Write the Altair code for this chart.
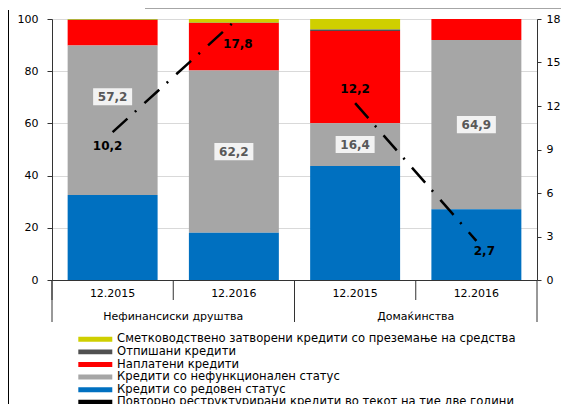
import altair as alt
import pandas as pd

# ---------------- data ----------------
categories = ["Нефинансиски друштва|12.2015", "Нефинансиски друштва|12.2016",
              "Домаќинства|12.2015", "Домаќинства|12.2016"]
groups = ["Нефинансиски друштва", "Домаќинства"]
series = ["Сметководствено затворени кредити со преземање на средства",
          "Отпишани кредити",
          "Наплатени кредити",
          "Кредити со нефункционален статус",
          "Кредити со редовен статус"]
line_name = "Повторно реструктурирани кредити во текот на тие две години"

yellow = [0.3, 1.4, 4.0, 0.0]
darkgrey = [0.1, 0.1, 0.6, 0.0]
red = [9.8, 18.2, 35.3, 8.0]
grey = [57.2, 62.2, 16.4, 64.9]
blue = [32.6, 18.1, 43.7, 27.1]
restructured = [10.2, 17.8, 12.2, 2.7]

colors = ["#CFCF00", "#505050", "#FF0000", "#A6A6A6", "#0070C0", "#000000"]

# ---------------- tables ----------------
series_values = [yellow, darkgrey, red, grey, blue]
rows = []
for si, (name, vals) in enumerate(zip(series, series_values)):
    for ci, cat in enumerate(categories):
        rows.append({"cat": cat, "series": name, "value": vals[ci], "rank": 4 - si})
bars_df = pd.DataFrame(rows)

fmt = lambda v: f"{v:.1f}".replace(".", ",")
grey_pos = [b + g / 2 for b, g in zip(blue, grey)]
grey_pos[0] += 9  # first label nudged up, clear of the line
grey_df = pd.DataFrame({"cat": categories, "pos": grey_pos, "label": [fmt(v) for v in grey]})
line_df = pd.DataFrame({"cat": categories, "grp": [c.split("|")[0] for c in categories],
                        "v": restructured, "label": [fmt(v) for v in restructured]})
cat_df = pd.DataFrame({"cat": categories})
grp_df = pd.DataFrame({"cat": [categories[1], categories[3]], "label": groups})

W, H = 485, 261
FONT = "DejaVu Sans"
AX = "#333333"


def xenc(band=0.5):
    return alt.X("cat:N", sort=categories, bandPosition=band,
                 scale=alt.Scale(domain=categories, paddingInner=0, paddingOuter=0),
                 axis=alt.Axis(title=None, labelExpr="split(datum.value,'|')[1]",
                               ticks=False, domain=True, domainColor=AX, labelPadding=7,
                               labelAngle=0, grid=False, labelFont=FONT, labelFontSize=11,
                               labelColor="#000"))


left_axis = alt.Axis(title=None, values=[0, 20, 40, 60, 80, 100], tickSize=5, tickColor=AX,
                     domainColor=AX, labelPadding=9, grid=True, gridColor="#D9D9D9",
                     labelFont=FONT, labelFontSize=11, labelColor="#000")
right_axis = alt.Axis(title=None, orient="right", values=[0, 3, 6, 9, 12, 15, 18], tickSize=4,
                      tickColor=AX, domainColor=AX, labelPadding=5, grid=False,
                      labelFont=FONT, labelFontSize=11, labelColor="#000")
yl_scale = alt.Scale(domain=[0, 100], nice=False, zero=True)
yr_scale = alt.Scale(domain=[0, 18], nice=False, zero=True)

bars = alt.Chart(bars_df).mark_bar(width={"band": 0.742}).encode(
    x=xenc(),
    y=alt.Y("value:Q", stack="zero", scale=yl_scale, axis=left_axis),
    color=alt.Color("series:N", scale=alt.Scale(domain=series + [line_name], range=colors),
                    legend=alt.Legend(title=None, orient="none", legendX=37.5, legendY=314.5,
                                      symbolType="M-3.09,-0.45H3.09V0.45H-3.09Z", symbolSize=121,
                                      symbolStrokeWidth=0, labelFont=FONT, labelFontSize=11.6,
                                      labelColor="#000", labelLimit=600, rowPadding=-0.4,
                                      labelOffset=16, padding=0, direction="vertical")),
    order=alt.Order("rank:Q", sort="ascending"),
)

boxes = alt.Chart(grey_df).mark_point(shape="M-1,-0.44H1V0.44H-1Z", size=1521, filled=True,
                                      color="#F2F2F2", opacity=1).encode(
    x=xenc(), y=alt.Y("pos:Q", scale=yl_scale, axis=left_axis))
grey_text = alt.Chart(grey_df).mark_text(font=FONT, fontSize=12, fontWeight="bold",
                                         color="#595959").encode(
    x=xenc(), y=alt.Y("pos:Q", scale=yl_scale, axis=left_axis), text="label:N")

short_sep = alt.Chart(cat_df).mark_rule(color=AX).encode(
    x=xenc(0), y=alt.value(H), y2=alt.value(H + 20))
long_sep = alt.Chart(cat_df).transform_filter(
    alt.FieldOneOfPredicate(field="cat", oneOf=[categories[0], categories[2]])
).mark_rule(color=AX).encode(x=xenc(0), y=alt.value(H), y2=alt.value(H + 42))
end_sep = alt.Chart(cat_df).transform_filter(
    alt.FieldEqualPredicate(field="cat", equal=categories[3])
).mark_rule(color=AX).encode(x=xenc(1), y=alt.value(H), y2=alt.value(H + 42))
grp_text = alt.Chart(grp_df).mark_text(font=FONT, fontSize=11, color="#000").encode(
    x=xenc(0), y=alt.value(H + 37), text="label:N")

frame_left = alt.Chart(cat_df).mark_rule(color="#000").encode(
    x=alt.value(-43.5), y=alt.value(-9), y2=alt.value(390))
frame_top = alt.Chart(cat_df).mark_rule(color="#A6A6A6").encode(
    x=alt.value(93), x2=alt.value(520), y=alt.value(-10.5))

left = alt.layer(bars, boxes, grey_text, short_sep, long_sep, end_sep, grp_text,
                 frame_left, frame_top)

line = alt.Chart(line_df).mark_line(color="black", strokeWidth=2.5,
                                    strokeDash=[20, 10, 2, 11]).encode(
    x=xenc(), y=alt.Y("v:Q", scale=yr_scale, axis=right_axis), detail="grp:N")

offsets = [(-5, 14), (4, 22), (0, -14), (8, 10)]
line_labels = []
for cat, (dx, dy) in zip(categories, offsets):
    line_labels.append(
        alt.Chart(line_df).transform_filter(alt.FieldEqualPredicate(field="cat", equal=cat))
        .mark_text(font=FONT, fontSize=12, fontWeight="bold", color="#000", dx=dx, dy=dy)
        .encode(x=xenc(), y=alt.Y("v:Q", scale=yr_scale, axis=right_axis), text="label:N"))

right = alt.layer(line, *line_labels)

chart = alt.layer(left, right).resolve_scale(y="independent").properties(
    width=W, height=H,
    autosize=alt.AutoSizeParams(type="none"),
    padding={"left": 44, "top": 11, "right": 24, "bottom": 124},
).configure_view(stroke="#595959").configure(background="white")

chart.save("out.html", embed_options={"renderer": "svg", "actions": False})
